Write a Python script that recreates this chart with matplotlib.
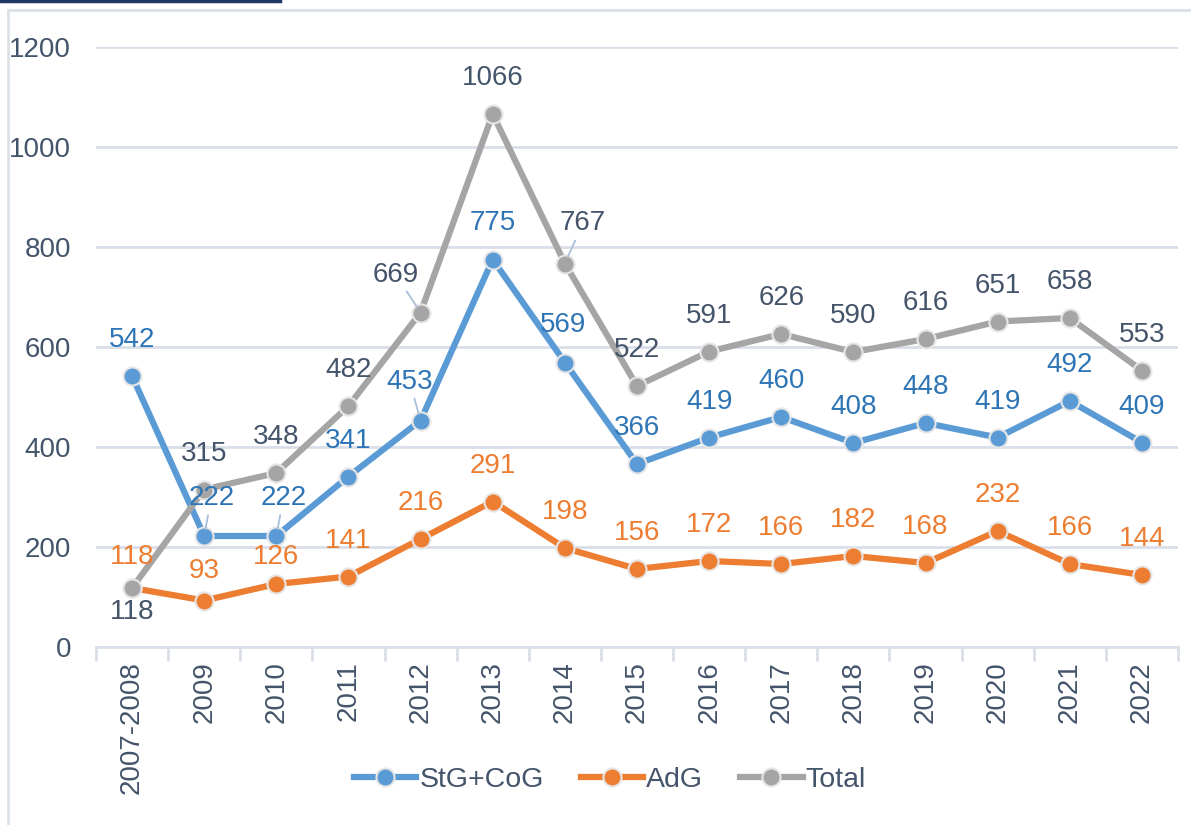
import matplotlib.pyplot as plt
from matplotlib.lines import Line2D
from matplotlib.patches import Rectangle

# data
years = ["2007-2008", "2009", "2010", "2011", "2012", "2013", "2014", "2015",
         "2016", "2017", "2018", "2019", "2020", "2021", "2022"]
stg_cog = [542, 222, 222, 341, 453, 775, 569, 366, 419, 460, 408, 448, 419, 492, 409]
adg = [118, 93, 126, 141, 216, 291, 198, 156, 172, 166, 182, 168, 232, 166, 144]
total = [118, 315, 348, 482, 669, 1066, 767, 522, 591, 626, 590, 616, 651, 658, 553]

plt.rcParams['font.family'] = ['Liberation Sans', 'DejaVu Sans']

blue, orange, gray = '#5B9BD5', '#ED7D31', '#A5A5A5'
text_col = '#44546A'
fs = 20

fig = plt.figure(figsize=(11.91, 8.25), dpi=100)
ax = fig.add_axes([96 / 1191, 1 - 647 / 825, (1178 - 96) / 1191, 600 / 825])

x = list(range(len(years)))
series = [(stg_cog, blue, '#2E75B6', 'StG+CoG'),
          (adg, orange, '#ED7D31', 'AdG'),
          (total, gray, text_col, 'Total')]

for vals, col, lab_col, name in series:
    ax.plot(x, vals, color=col, lw=4.5, marker='o', ms=13,
            markerfacecolor=col, markeredgecolor='#E6E6E6', markeredgewidth=1.5,
            label=name, zorder=3, solid_joinstyle='round')

# label offsets in pixels (dx, dy); default is straight above
default_off = (0, 36)
special = {
    ('StG+CoG', 1): (7, 38), ('StG+CoG', 2): (7, 38),
    ('StG+CoG', 4): (-11, 39), ('StG+CoG', 6): (-2, 38),
    ('AdG', 0): (0, 31), ('AdG', 1): (0, 29), ('AdG', 2): (0, 27),
    ('Total', 0): (0, -24), ('Total', 4): (-25, 38), ('Total', 6): (18, 40),
}
leaders = {('StG+CoG', 1), ('StG+CoG', 2), ('StG+CoG', 4), ('Total', 4), ('Total', 6)}

for vals, col, lab_col, name in series:
    for i, v in enumerate(vals):
        dx, dy = special.get((name, i), default_off)
        props = None
        if (name, i) in leaders:
            props = dict(arrowstyle='-', color='#A9BFD8', lw=1.3, shrinkA=1, shrinkB=5)
        ax.annotate(str(v), (i, v), xytext=(dx * 0.72, dy * 0.72),
                    textcoords='offset points', ha='center', va='center',
                    fontsize=fs, color=lab_col, arrowprops=props, zorder=4)

ax.set_ylim(0, 1200)
ax.set_xlim(-0.5, len(years) - 0.5)
ax.set_yticks(range(0, 1201, 200))
ax.grid(axis='y', color='#D9DEE8', lw=2)
ax.set_axisbelow(True)
for s in ['top', 'right', 'left']:
    ax.spines[s].set_visible(False)
ax.spines['bottom'].set_color('#D9DEE8')
ax.spines['bottom'].set_linewidth(2)

ax.set_xticks(x)
ax.set_xticklabels(years, rotation=90, fontsize=fs, color=text_col)
ax.tick_params(axis='x', length=0, pad=10)
ax.set_xticks([i - 0.5 for i in range(len(years) + 1)], minor=True)
ax.tick_params(axis='x', which='minor', length=10, width=2, color='#D9DEE8')
ax.tick_params(axis='y', length=0, labelsize=fs, labelcolor=text_col, pad=18)

fig.legend(loc='center', bbox_to_anchor=(0.512, 1 - 780 / 825), ncol=3,
           frameon=False, fontsize=20.5, labelcolor=text_col, handlelength=2.2,
           handletextpad=0.1, columnspacing=1.3)

# outer frame and the dark strip at the top-left
fig.add_artist(Rectangle((8 / 1191, -0.1), 1.2, 1 - 10 / 825 + 0.1,
                         transform=fig.transFigure, fill=False,
                         edgecolor='#DCE1E8', lw=2))
fig.add_artist(Line2D([0, 280 / 1191], [1 - 1 / 825, 1 - 1 / 825],
                      transform=fig.transFigure, color='#1F3864', lw=2.5))

fig.savefig('out.png', dpi=100)
